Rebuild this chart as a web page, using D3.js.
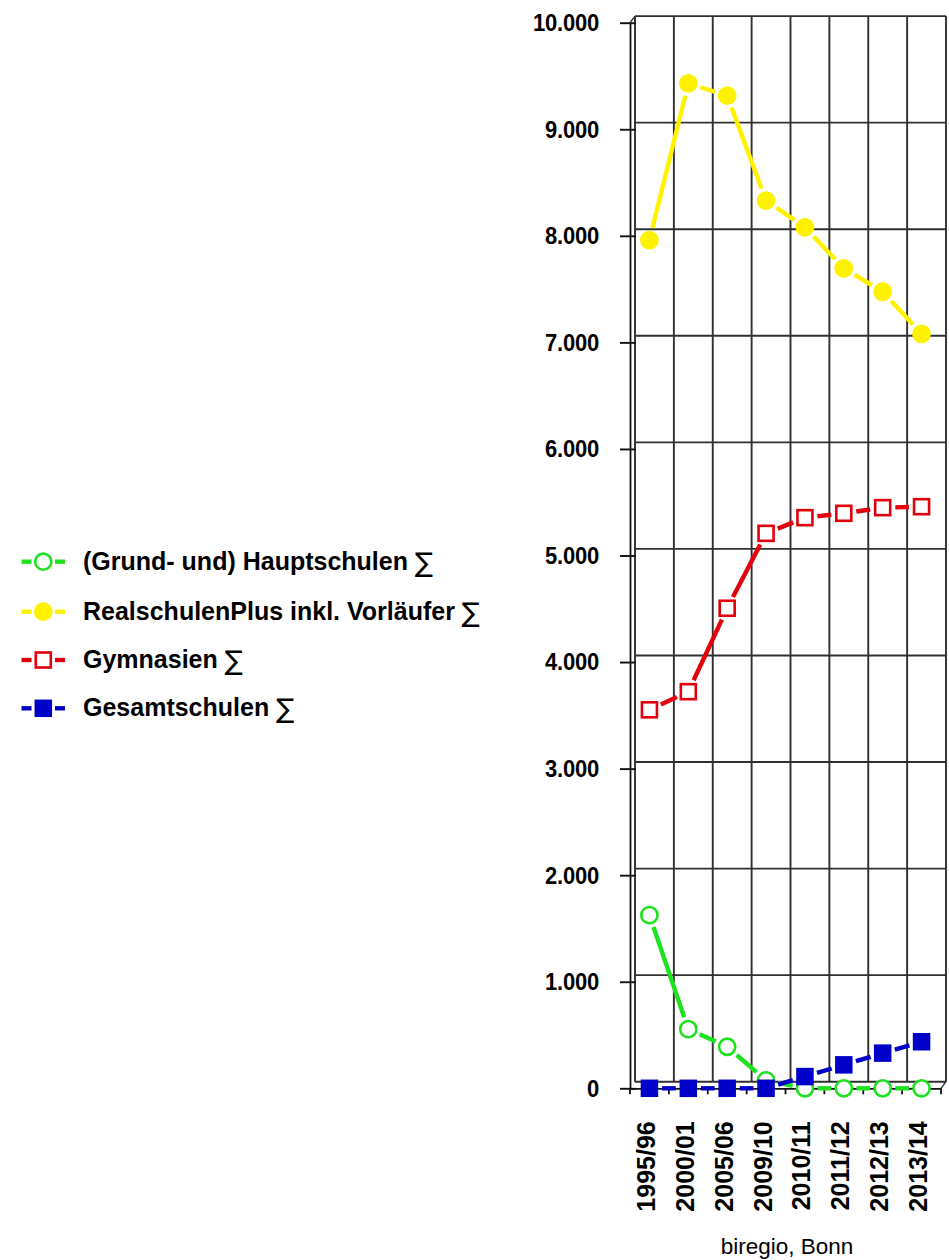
<!DOCTYPE html>
<html><head><meta charset="utf-8">
<script src="https://cdn.jsdelivr.net/npm/d3@7"></script>
<style>
html,body{margin:0;padding:0;background:#fff;}
svg{display:block;font-family:"Liberation Sans",Arial,Helvetica,sans-serif;}
</style></head>
<body>
<svg id="chart" width="949" height="1260"></svg>
<script>
const categories = ["1995/96","2000/01","2005/06","2009/10","2010/11","2011/12","2012/13","2013/14"];
const hauptschulen  = [1625, 555, 390, 75, 0, 0, 0, 0];
const realschulen   = [7960, 9430, 9315, 8330, 8080, 7695, 7475, 7080];
const gymnasien     = [3552, 3722, 4505, 5208, 5355, 5396, 5449, 5458];
const gesamtschulen = [0, 0, 0, 0, 110, 220, 330, 437];
const seriesNames = ["(Grund- und) Hauptschulen","RealschulenPlus inkl. Vorl\u00e4ufer","Gymnasien","Gesamtschulen"];
const sumSymbol = "\u2211";
const yTicks = [0,1000,2000,3000,4000,5000,6000,7000,8000,9000,10000];
const yTickLabels = ["0","1.000","2.000","3.000","4.000","5.000","6.000","7.000","8.000","9.000","10.000"];
const sourceLabel = "biregio, Bonn";

const series = [
  {name: seriesNames[0], values: hauptschulen,  color:"#1ee21e", marker:"circle", filled:false},
  {name: seriesNames[1], values: realschulen,   color:"#fff200", marker:"circle", filled:true},
  {name: seriesNames[2], values: gymnasien,     color:"#e2000c", marker:"square", filled:false},
  {name: seriesNames[3], values: gesamtschulen, color:"#0000c8", marker:"square", filled:true}
];

const svg = d3.select("#chart");
const x = d3.scaleBand().domain(categories).range([630, 941]).padding(0);
const y = d3.scaleLinear().domain([0, 10000]).range([1088.3, 22.7]);
const dx = 5, dy = -6.6; // back-plane offset of the grid
const gridColor = "#303030";

// grid (back plane)
const grid = svg.append("g");
grid.selectAll("line.h").data(yTicks).join("line")
  .attr("x1", x.range()[0] + dx).attr("x2", x.range()[1] + dx)
  .attr("y1", d => y(d) + dy).attr("y2", d => y(d) + dy)
  .attr("stroke", gridColor).attr("stroke-width", 1.9);
const bounds = categories.map(c => x(c)).concat([x.range()[1]]);
grid.selectAll("line.v").data(bounds).join("line")
  .attr("x1", d => d + dx).attr("x2", d => d + dx)
  .attr("y1", y(10000) + dy).attr("y2", y(0) + dy)
  .attr("stroke", gridColor).attr("stroke-width", 1.9);
// depth connectors
grid.append("line").attr("x1", x.range()[0]).attr("y1", y(10000))
  .attr("x2", x.range()[0] + dx).attr("y2", y(10000) + dy).attr("stroke", gridColor).attr("stroke-width", 1.4);
grid.append("line").attr("x1", x.range()[1]).attr("y1", y(0))
  .attr("x2", x.range()[1] + dx).attr("y2", y(0) + dy).attr("stroke", gridColor).attr("stroke-width", 1.4);

// y axis
const yAxis = svg.append("g").attr("transform", `translate(${x.range()[0]},0)`)
  .call(d3.axisLeft(y).tickValues(yTicks).tickSizeInner(10).tickSizeOuter(0).tickPadding(21)
    .tickFormat((d, i) => yTickLabels[i]));
yAxis.select(".domain").attr("stroke", "#111").attr("stroke-width", 1.8);
yAxis.selectAll(".tick line").attr("x1", 6).attr("stroke", "#111").attr("stroke-width", 1.9);
yAxis.selectAll(".tick text").attr("font-size", 22).attr("font-weight", "bold").attr("fill", "#000")
  .attr("font-family", "'Liberation Sans',Arial,sans-serif").attr("letter-spacing", "-0.2")
  .attr("transform", "scale(1,1.12)");

// x axis
const xAxis = svg.append("g").attr("transform", `translate(0,${y(0)})`)
  .call(d3.axisBottom(x).tickSize(0).tickSizeOuter(0));
xAxis.select(".domain").attr("stroke", "#111").attr("stroke-width", 1.8);
xAxis.selectAll(".tick text")
  .attr("transform", "rotate(-90)").attr("text-anchor", "end")
  .attr("x", -33).attr("y", 5.5).attr("dy", "0")
  .attr("font-size", 25).attr("font-weight", "bold").attr("fill", "#000")
  .attr("font-family", "'Liberation Sans',Arial,sans-serif");
xAxis.selectAll("line.bt").data(bounds).join("line").attr("class", "bt")
  .attr("x1", d => d).attr("x2", d => d).attr("y1", 0).attr("y2", 6)
  .attr("stroke", "#111").attr("stroke-width", 1.8);

// source label
svg.append("text").attr("x", (x.range()[0] + x.range()[1]) / 2 + 1.5).attr("y", 1254)
  .attr("text-anchor", "middle").attr("font-size", 22.5).attr("fill", "#000")
  .text(sourceLabel);

// series
const R = 8.6, SQ = 16.5, GAP = 4;
function drawMarker(g, cx, cy, s) {
  if (s.marker === "circle") {
    g.append("circle").attr("cx", cx).attr("cy", cy)
      .attr("r", s.filled ? R + 0.8 : R - 0.5)
      .attr("fill", s.filled ? s.color : "#fff")
      .attr("stroke", s.filled ? "none" : s.color).attr("stroke-width", 2.6);
  } else {
    const a = s.filled ? SQ + 1 : SQ - 1.5;
    g.append("rect").attr("x", cx - a / 2).attr("y", cy - a / 2).attr("width", a).attr("height", a)
      .attr("fill", s.filled ? s.color : "#fff")
      .attr("stroke", s.filled ? "none" : s.color).attr("stroke-width", 2.6);
  }
}
const plot = svg.append("g");
series.forEach(s => {
  const g = plot.append("g");
  const pts = s.values.map((v, i) => [x(categories[i]) + x.bandwidth() / 2, y(v)]);
  for (let i = 0; i < pts.length - 1; i++) {
    const [x0, y0] = pts[i], [x1, y1] = pts[i + 1];
    const L = Math.hypot(x1 - x0, y1 - y0);
    const cut = R + GAP;
    if (L <= 2 * cut) continue;
    const ux = (x1 - x0) / L, uy = (y1 - y0) / L;
    g.append("line")
      .attr("x1", x0 + ux * cut).attr("y1", y0 + uy * cut)
      .attr("x2", x1 - ux * cut).attr("y2", y1 - uy * cut)
      .attr("stroke", s.color).attr("stroke-width", 4.4);
  }
  pts.forEach(p => drawMarker(g, p[0], p[1], s));
});

// legend
const legend = svg.append("g");
const legendY = [561.7, 611.7, 660, 708.3];
series.forEach((s, i) => {
  const g = legend.append("g");
  const cy = legendY[i];
  g.append("line").attr("x1", 21.5).attr("x2", 31.5).attr("y1", cy).attr("y2", cy)
    .attr("stroke", s.color).attr("stroke-width", 4.4);
  g.append("line").attr("x1", 55).attr("x2", 65).attr("y1", cy).attr("y2", cy)
    .attr("stroke", s.color).attr("stroke-width", 4.4);
  drawMarker(g, 43.3, cy, s);
  const t = g.append("text").attr("x", 83).attr("y", cy + 8).attr("font-size", 25).attr("font-weight", "bold")
    .attr("fill", "#000");
  t.append("tspan").text(s.name + " ");
  t.append("tspan").attr("font-weight", "normal").attr("font-family", "'DejaVu Sans',sans-serif")
    .attr("font-size", 27).attr("dy", 2).text(sumSymbol);
});
</script>
</body></html>
